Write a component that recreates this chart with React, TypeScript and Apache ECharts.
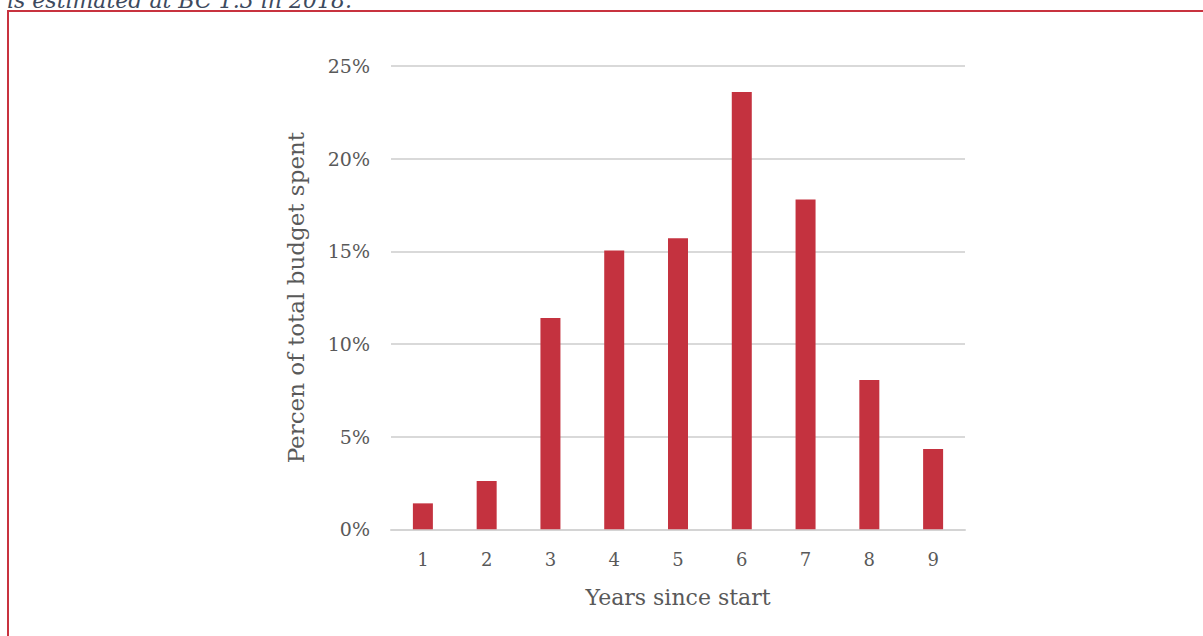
import React, { useEffect, useRef } from "react";
import * as echarts from "echarts";

const categories = ["1", "2", "3", "4", "5", "6", "7", "8", "9"];
const budgetShare = [1.4, 2.6, 11.4, 15.05, 15.7, 23.6, 17.8, 8.05, 4.33];
const yTicks = [0, 5, 10, 15, 20, 25];
const captionText = "is estimated at BC 1.3 in 2018.";
const yAxisTitle = "Percen of total budget spent";
const xAxisTitle = "Years since start";

const FONT = "Georgia, 'DejaVu Serif', 'Liberation Serif', serif";

export default function App() {
  const ref = useRef<HTMLDivElement>(null);
  useEffect(() => {
    if (!ref.current) return;
    const chart = echarts.init(ref.current, null, { renderer: "svg" });
    chart.setOption({
      animation: false,
      backgroundColor: "#ffffff",
      textStyle: { fontFamily: FONT },
      grid: { left: 391, right: 238, top: 66, bottom: 106.7, containLabel: false },
      xAxis: {
        type: "category",
        data: categories,
        name: xAxisTitle,
        nameLocation: "middle",
        nameGap: 57,
        nameTextStyle: { fontFamily: FONT, fontSize: 22, color: "#595959" },
        axisLine: { show: true, lineStyle: { color: "#d4d4d4", width: 2 } },
        axisTick: { show: false },
        axisLabel: { fontFamily: FONT, fontSize: 18, color: "#595959", margin: 21 },
      },
      yAxis: {
        type: "value",
        min: 0,
        max: 25,
        interval: 5,
        name: yAxisTitle,
        nameLocation: "middle",
        nameGap: 84,
        nameRotate: 90,
        nameTextStyle: { fontFamily: FONT, fontSize: 23, color: "#595959" },
        axisLine: { show: false },
        axisTick: { show: false },
        axisLabel: {
          fontFamily: FONT,
          fontSize: 19,
          color: "#595959",
          margin: 21,
          formatter: (v: number) => (yTicks.includes(v) ? v + "%" : ""),
        },
        splitLine: { show: true, lineStyle: { color: "#d9d9d9", width: 2 } },
      },
      series: [
        {
          type: "bar",
          data: budgetShare,
          barWidth: 20,
          itemStyle: { color: "#c4323f" },
        },
      ],
      graphic: [
        {
          type: "text",
          left: 7,
          top: -11,
          style: {
            text: captionText,
            font: "italic 22px " + FONT,
            fill: "#3d4a5e",
          },
        },
        {
          type: "line",
          shape: { x1: 7, y1: 11, x2: 1203, y2: 11 },
          style: { stroke: "#c8323f", lineWidth: 2 },
        },
        {
          type: "line",
          shape: { x1: 8, y1: 10, x2: 8, y2: 636 },
          style: { stroke: "#c8323f", lineWidth: 2 },
        },
      ],
    });
    return () => chart.dispose();
  }, []);
  return (
    <div
      ref={ref}
      style={{ position: "absolute", left: 0, top: 0, width: 1203, height: 636 }}
    />
  );
}
